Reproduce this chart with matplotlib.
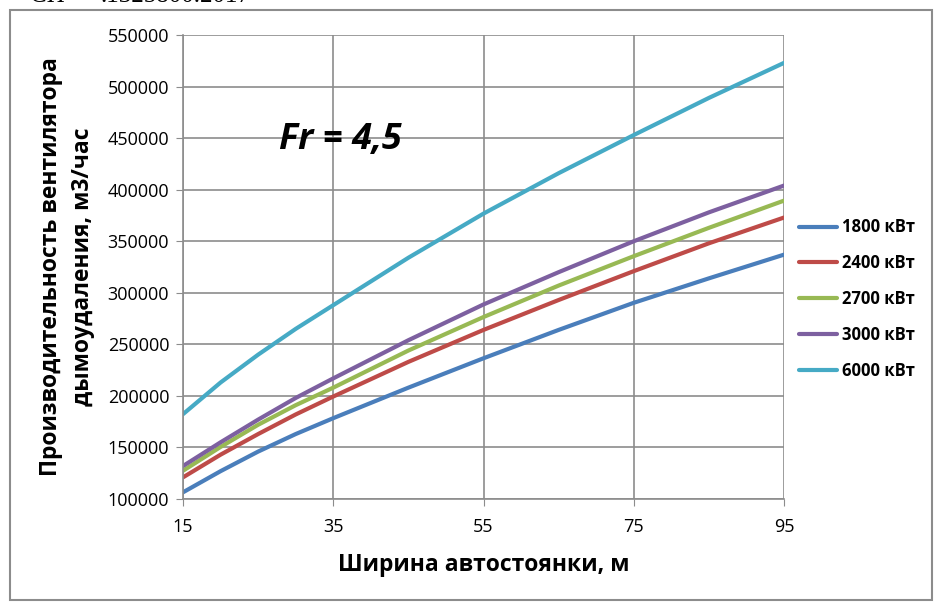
import matplotlib
matplotlib.use("Agg")
import matplotlib.pyplot as plt
from matplotlib.patches import Rectangle

plt.rcParams["font.family"] = ["Open Sans", "DejaVu Sans"]

# parking width, m
widths = [15, 20, 25, 30, 35, 45, 55, 65, 75, 85, 95]

# fan capacity, m3/h
q_1800 = [106500, 127000, 146000, 163000, 178400, 208000, 236500, 264000, 290300, 314000, 337000]
q_2400 = [121000, 143000, 163000, 182000, 199400, 233000, 264000, 293000, 321000, 348000, 373000]
q_2700 = [127400, 150500, 172000, 191000, 208000, 244000, 276500, 307000, 335500, 363000, 389400]
q_3000 = [132000, 155000, 177000, 198000, 217000, 254000, 288700, 320000, 350000, 378000, 404000]
q_6000 = [182300, 213000, 240000, 265000, 288000, 334000, 376800, 416000, 453000, 489000, 523000]

series_labels = ["1800 кВт", "2400 кВт", "2700 кВт", "3000 кВт", "6000 кВт"]
series_colors = ["#4a7ebb", "#be4b48", "#98b954", "#7d60a0", "#46aac5"]

x_ticks = [15, 35, 55, 75, 95]
y_ticks = list(range(100000, 550001, 50000))

fig = plt.figure(figsize=(9.41, 6.11), dpi=100)
ax = fig.add_axes([0.1945, 0.1833, 0.6387, 0.7594])

for values, label, color in zip([q_1800, q_2400, q_2700, q_3000, q_6000],
                                series_labels, series_colors):
    ax.plot(widths, values, color=color, linewidth=3, label=label,
            solid_capstyle="round", solid_joinstyle="round")

ax.set_xlim(15, 95)
ax.set_ylim(100000, 550000)
ax.set_xticks(x_ticks)
ax.set_yticks(y_ticks)
ax.grid(True, color="#8c8c8c", linewidth=1.2)
ax.set_axisbelow(True)
for side in ("top", "right"):
    ax.spines[side].set_visible(False)
for side in ("left", "bottom"):
    ax.spines[side].set_color("#8c8c8c")
    ax.spines[side].set_linewidth(1.2)
ax.tick_params(axis="both", direction="out", length=5, color="#8c8c8c",
               labelsize=13, pad=5)
ax.tick_params(axis="x", pad=9)

ax.set_xlabel("Ширина автостоянки, м", fontsize=16.5, fontweight="bold", labelpad=12)
ax.set_ylabel("Производительность вентилятора\nдымоудаления, м3/час",
              fontsize=16.5, fontweight="bold", labelpad=9, linespacing=1.45)

ax.text(0.16, 0.755, "Fr = 4,5", transform=ax.transAxes, fontsize=26,
        fontweight="bold", fontstyle="italic")

ax.legend(loc="center left", bbox_to_anchor=(1.0, 0.431), frameon=False,
          prop={"size": 12, "weight": "bold"}, handlelength=2.3,
          labelspacing=1.07, handletextpad=0.3)

# outer chart frame
fig.patches.append(Rectangle((10 / 941, 1 - 600 / 611), 922 / 941, 590 / 611,
                             transform=fig.transFigure, fill=False,
                             edgecolor="#8c8c8c", linewidth=1.5))

# cut-off page header
fig.text(30 / 941, 1.0 + 4 / 611, "СП", family="Liberation Serif", fontsize=18,
         va="center")
fig.text(100 / 941, 1.0 + 4 / 611, ".1325800.2017", family="Liberation Serif",
         fontsize=18, va="center")

fig.savefig("out.png", dpi=100)
